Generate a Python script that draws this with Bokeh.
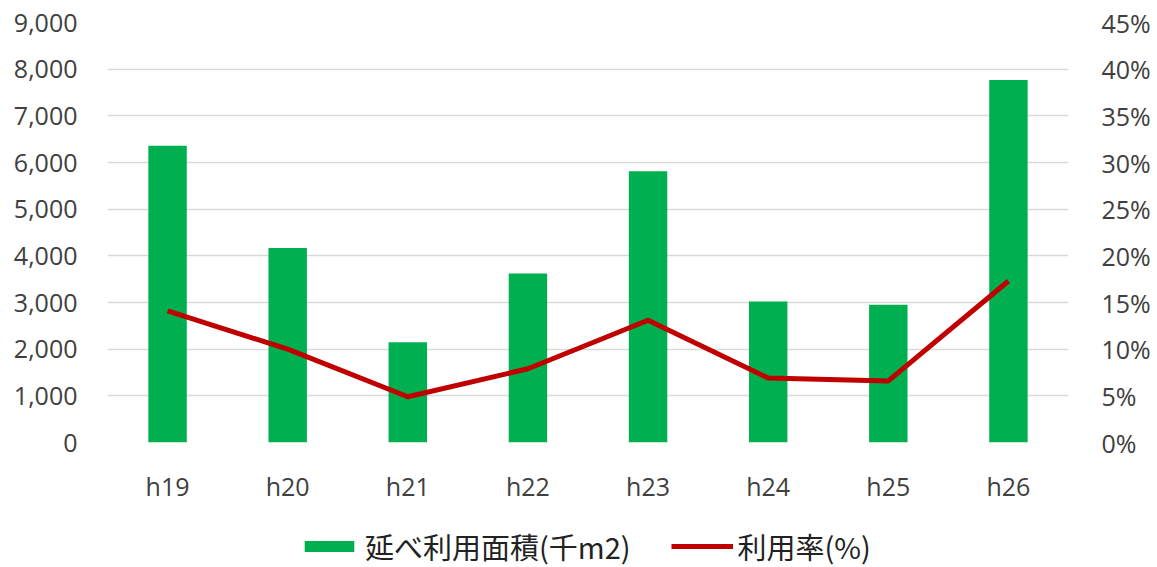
from bokeh.plotting import figure
from bokeh.layouts import column
from bokeh.models import (FactorRange, Range1d, LinearAxis, FixedTicker,
                          NumeralTickFormatter, Legend, LegendItem, ColumnDataSource)
from bokeh.embed import file_html
from bokeh.resources import INLINE

years = ["h19", "h20", "h21", "h22", "h23", "h24", "h25", "h26"]
area = [6360, 4170, 2150, 3620, 5810, 3020, 2950, 7770]          # 延べ利用面積(千m2)
rate = [0.141, 0.100, 0.049, 0.079, 0.131, 0.069, 0.066, 0.173]  # 利用率(%)
left_ticks = [0, 1000, 2000, 3000, 4000, 5000, 6000, 7000, 8000, 9000]
right_ticks = [0, 0.05, 0.10, 0.15, 0.20, 0.25, 0.30, 0.35, 0.40, 0.45]
series_names = ["延べ利用面積(千m2)", "利用率(%)"]

GREEN = "#00B050"
RED = "#C00000"
TICK_FONT = "Open Sans"
TICK_COLOR = "#404040"

src = ColumnDataSource(dict(x=years, area=area, rate=rate))

p = figure(width=1157, height=505, x_range=FactorRange(*years, range_padding=0),
           y_range=Range1d(0, 9000), output_backend="svg", toolbar_location=None,
           min_border_left=107, min_border_right=89, min_border_top=22, min_border_bottom=61)
p.extra_y_ranges = {"pct": Range1d(0, 0.45)}

p.vbar(x="x", top="area", width=0.32, source=src, color=GREEN, line_color=None)
p.line(x="x", y="rate", source=src, y_range_name="pct", line_color=RED, line_width=5,
       line_join="round")

p.outline_line_color = None
p.background_fill_color = "white"
p.border_fill_color = "white"
p.xgrid.grid_line_color = None
p.ygrid.grid_line_color = "#D9D9D9"
p.ygrid.grid_line_width = 1.5
p.ygrid.ticker = FixedTicker(ticks=left_ticks)

p.yaxis.ticker = FixedTicker(ticks=left_ticks)
p.yaxis.formatter = NumeralTickFormatter(format="0,0")

raxis = LinearAxis(y_range_name="pct", ticker=FixedTicker(ticks=right_ticks),
                   formatter=NumeralTickFormatter(format="0%"))
p.add_layout(raxis, "right")

for ax in [p.yaxis[0], raxis, p.xaxis[0]]:
    ax.axis_line_color = None
    ax.major_tick_line_color = None
    ax.minor_tick_line_color = None
    ax.major_label_text_font = TICK_FONT
    ax.major_label_text_font_size = "25px"
    ax.major_label_text_color = TICK_COLOR
p.yaxis[0].major_label_standoff = 24
raxis.major_label_standoff = 27
p.xaxis[0].major_label_standoff = 20

# legend strip below the chart: the same series are drawn here far below the visible
# y-range, so only their legend glyphs show
p2 = figure(width=1157, height=62, x_range=FactorRange(*years, range_padding=0),
            y_range=Range1d(20000, 40000), output_backend="svg", toolbar_location=None,
            min_border_left=107, min_border_right=89, min_border_top=0, min_border_bottom=0,
            x_axis_type=None, y_axis_type=None)
p2.outline_line_color = None
p2.grid.grid_line_color = None
p2.border_fill_color = "white"
p2.background_fill_color = "white"
lg_bar = p2.vbar(x="x", top="area", width=0.32, source=src, color=GREEN, line_color=None)
lg_line = p2.line(x="x", y="rate", source=src, line_color=RED, line_width=5)

legend = Legend(items=[LegendItem(label=series_names[0], renderers=[lg_bar]),
                       LegendItem(label=series_names[1], renderers=[lg_line])],
                orientation="horizontal", location=(191, 0),
                label_text_font="Noto Sans CJK JP", label_text_font_size="29px",
                label_text_color="#222222", glyph_width=62, glyph_height=14,
                label_standoff=5, spacing=40, padding=0, margin=0,
                border_line_color=None, background_fill_alpha=0)
p2.add_layout(legend)

layout = column(p, p2, spacing=0)
open("out.html", "w").write(file_html(layout, INLINE))
